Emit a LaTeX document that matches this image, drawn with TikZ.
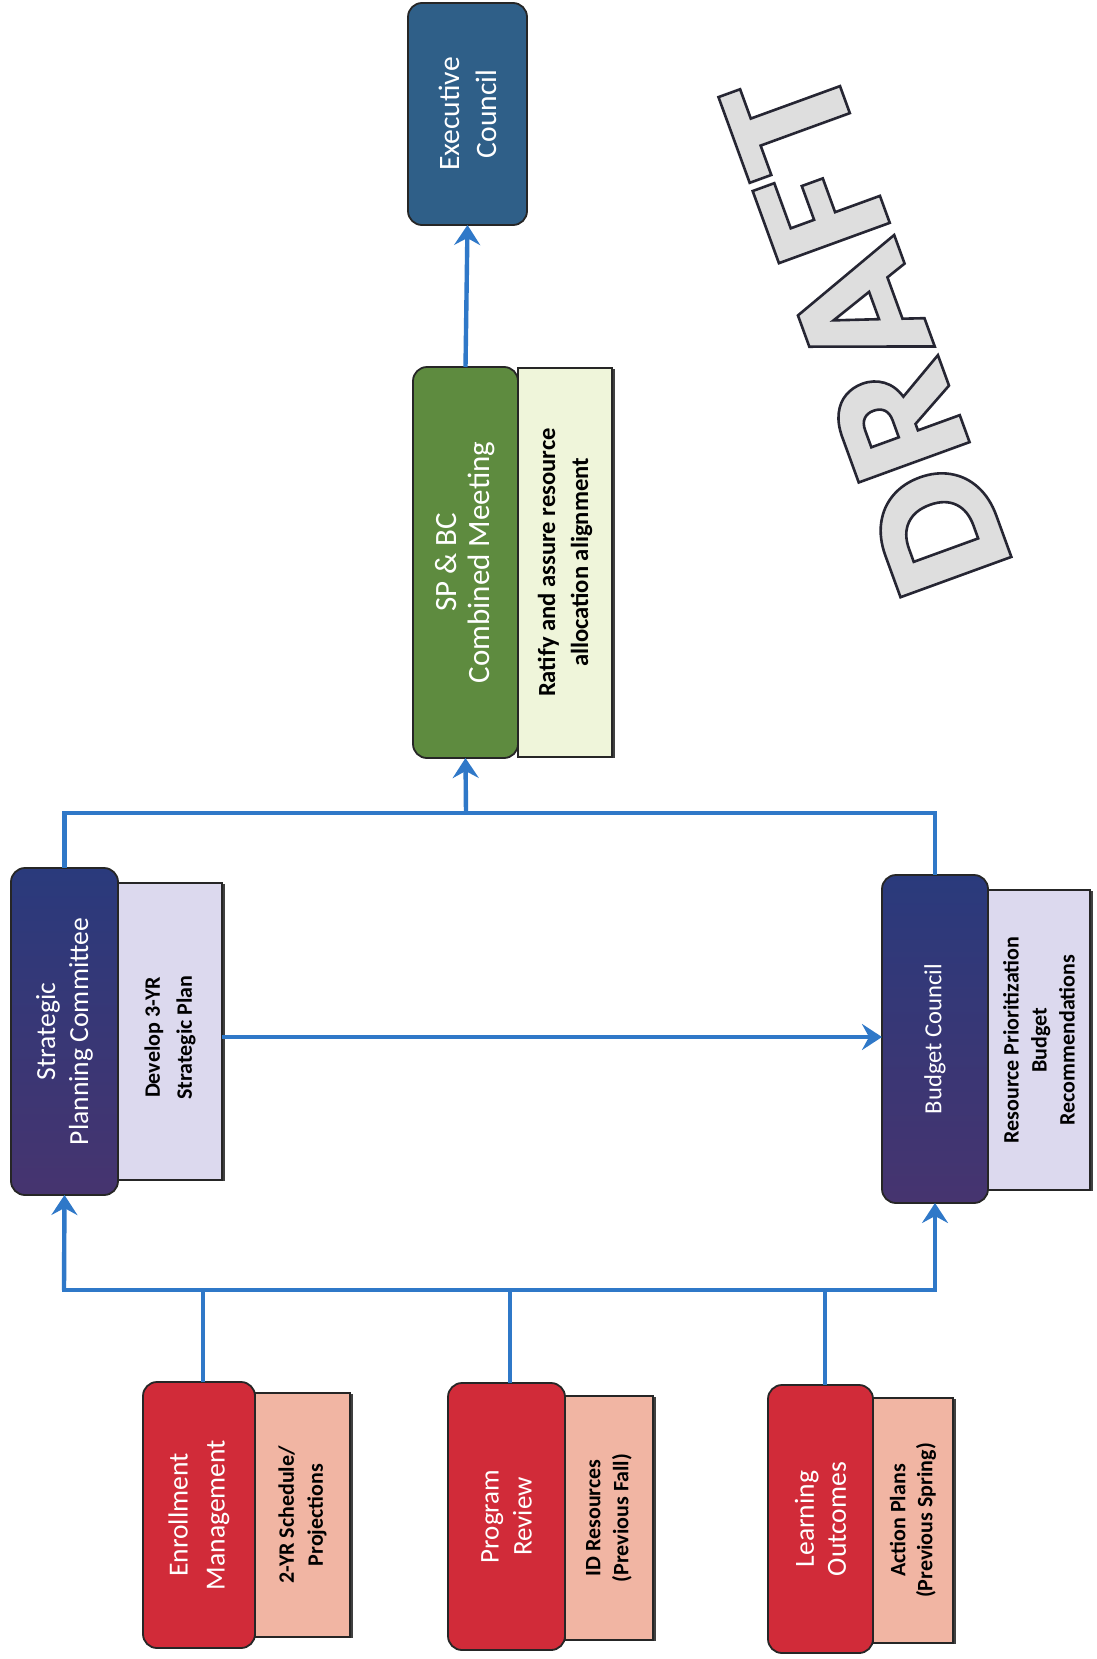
\documentclass[tikz,border=0pt]{standalone}
\usepackage{fontspec}
\setmainfont{Carlito}
\newfontfamily\draftfont{Poppins}
\usetikzlibrary{arrows.meta,fit,shadows}
\definecolor{navyT}{HTML}{2A3A7C}
\definecolor{navyB}{HTML}{46346F}
\definecolor{lav}{HTML}{DCD9EE}
\definecolor{grn}{HTML}{5E8B3F}
\definecolor{lgrn}{HTML}{EFF5DA}
\definecolor{exec}{HTML}{2F5F88}
\definecolor{rd}{HTML}{D12B39}
\definecolor{salmon}{HTML}{F1B5A3}
\definecolor{cblue}{HTML}{2F78C8}
\newcommand{\outlinetext}[1]{\special{pdf:literal direct 0.15 0.15 0.2 RG 2 Tr 1.3 w}#1\special{pdf:literal direct 0 Tr}}
\begin{document}
\begin{tikzpicture}[x=0.5pt,y=-0.5pt,
  box/.style={draw=black!85, line width=0.9pt, rounded corners=7pt, inner sep=0pt, outer sep=0pt},
  lbox/.style={draw=black!85, line width=0.7pt, inner sep=0pt, outer sep=0pt,
    drop shadow={shadow xshift=1.3pt, shadow yshift=-0.3pt, fill=black, opacity=0.75}},
  dtxt/.style={rotate=90, text=white, align=center, inner sep=0pt},
  ltxt/.style={rotate=90, text=black, align=center, inner sep=0pt, font=\bfseries},
  conn/.style={draw=cblue, line width=2.2pt},
  arr/.style={-{Stealth[length=10pt,width=13pt,inset=3.5pt]}}
]
\fill[white] (0,0) rectangle (1097,1659);
\useasboundingbox (0,0) rectangle (1097,1659);

% ---- light boxes ----
\node[lbox, fill=lav,   fit={(118,883) (222,1180)}] (spcL) {};
\node[lbox, fill=lav,   fit={(988,890) (1090,1190)}] (bcL) {};
\node[lbox, fill=lgrn,  fit={(518,368) (612,757)}] (spbcL) {};
\node[lbox, fill=salmon,fit={(255,1393) (350,1637)}] (emL) {};
\node[lbox, fill=salmon,fit={(565,1396) (653,1640)}] (prL) {};
\node[lbox, fill=salmon,fit={(873,1398) (953,1643)}] (loL) {};

% ---- dark boxes ----
\node[box, top color=navyT, bottom color=navyB, fit={(11,868) (118,1195)}] (spc) {};
\node[box, top color=navyT, bottom color=navyB, fit={(882,875) (988,1203)}] (bc) {};
\node[box, fill=grn,  fit={(413,367) (518,758)}] (spbc) {};
\node[box, fill=exec, fit={(408,3) (527,225)}] (ec) {};
\node[box, fill=rd,   fit={(143,1382) (255,1648)}] (em) {};
\node[box, fill=rd,   fit={(448,1383) (565,1650)}] (pr) {};
\node[box, fill=rd,   fit={(768,1385) (873,1653)}] (lo) {};

% ---- texts ----
\node[dtxt, font=\fontsize{13.8}{16.5}\selectfont] (spcT) at (spc) {Strategic\\Planning Committee};
\node[dtxt, font=\fontsize{12.3}{15}\selectfont] (bcT) at (bc) {Budget Council};
\node[dtxt, font=\fontsize{15.5}{16.5}\selectfont] (spbcT) at (spbc) {SP \& BC\\Combined Meeting};
\node[dtxt, font=\fontsize{14.8}{18.5}\selectfont] (ecT) at (ec) {Executive\\Council};
\node[dtxt, font=\fontsize{13.8}{18.5}\selectfont] (emT) at (em) {Enrollment\\Management};
\node[dtxt, font=\fontsize{13.5}{16.5}\selectfont] (prT) at (pr) {Program\\Review};
\node[dtxt, font=\fontsize{13.8}{16}\selectfont] (loT) at (lo) {Learning\\Outcomes};

\node[ltxt, font=\bfseries\fontsize{11}{16}\selectfont] (spcLT) at ([yshift=-3pt]spcL.center) {Develop 3-YR\\Strategic Plan};
\node[ltxt, font=\bfseries\fontsize{11}{14}\selectfont] (bcLT) at (bcL) {Resource Prioritization\\Budget\\Recommendations};
\node[ltxt, font=\bfseries\fontsize{12.3}{16.5}\selectfont] (spbcLT) at (spbcL) {Ratify and assure resource\\allocation alignment};
\node[ltxt, font=\bfseries\fontsize{11}{14.5}\selectfont] (emLT) at (emL) {2-YR Schedule/\\Projections};
\node[ltxt, font=\bfseries\fontsize{11}{14}\selectfont] (prLT) at (prL) {ID Resources\\(Previous Fall)};
\node[ltxt, font=\bfseries\fontsize{11}{13.5}\selectfont] (loLT) at (loL) {Action Plans\\(Previous Spring)};

% ---- connectors ----
\coordinate (b1) at (203,1290);
\coordinate (b2) at (510,1290);
\coordinate (b3) at (825,1290);
\coordinate (busL) at (64,1290);
\coordinate (busR) at (935,1290);
\coordinate (tb) at (466,813);
\coordinate (h1) at (222,1037);

\draw[conn] (em.north -| b1) -- (b1);
\draw[conn] (pr.north -| b2) -- (b2);
\draw[conn] (lo.north -| b3) -- (b3);
\draw[conn, line cap=rect] (busL) -- (busR);
\draw[conn, arr] (busL) -- (spc.south);
\draw[conn, arr] (busR) -- (bc.south);

\draw[conn, line join=miter] (spc.north) |- (tb) -| (bc.north);
\draw[conn, arr] (tb) -- (spbc.south);
\draw[conn, arr] (spbc.north) -- (ec.south);
\draw[conn, arr] (spcL.east |- h1) -- (bc.west |- h1);

% ---- DRAFT ----
\node[rotate=110, text=black!13, font=\draftfont\bfseries\fontsize{84}{84}\selectfont] (draft) at (866,330) {\outlinetext{DRAFT}};
\end{tikzpicture}
\end{document}
